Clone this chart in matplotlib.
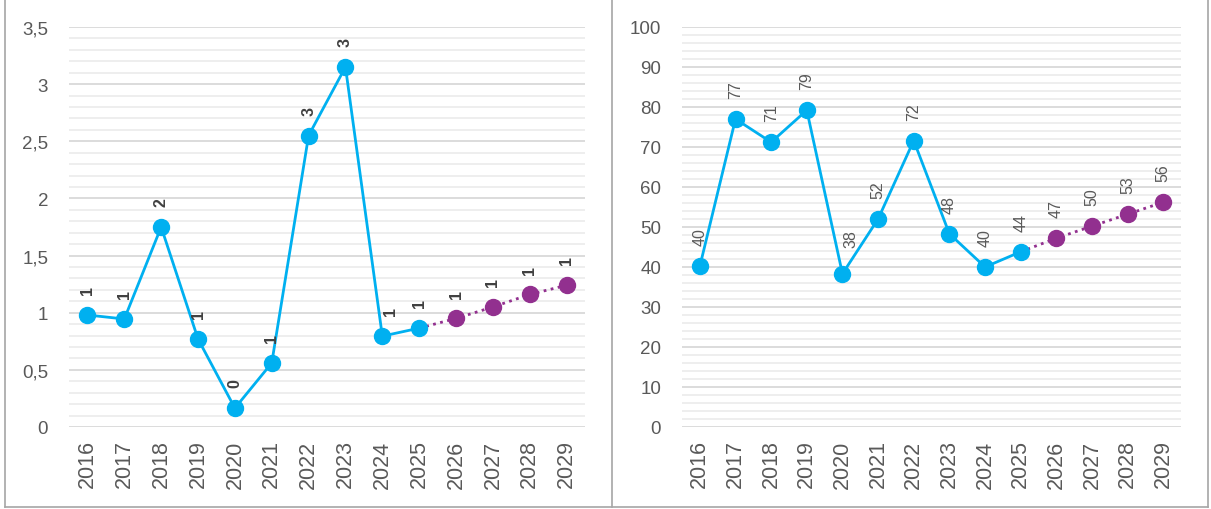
import matplotlib.pyplot as plt
from matplotlib.ticker import MultipleLocator, FuncFormatter
from matplotlib.lines import Line2D

plt.rcParams['font.family'] = ['Liberation Sans', 'DejaVu Sans']

years = ['2016', '2017', '2018', '2019', '2020', '2021', '2022',
         '2023', '2024', '2025', '2026', '2027', '2028', '2029']
n_fact = 10  # 2016..2025 actual, 2026..2029 forecast

left_vals = [0.98, 0.945, 1.75, 0.77, 0.165, 0.56, 2.55, 3.15, 0.795, 0.865,
             0.95, 1.05, 1.16, 1.24]
left_labels = ['1', '1', '2', '1', '0', '1', '3', '3', '1', '1', '1', '1', '1', '1']

right_vals = [40.2, 77.0, 71.2, 79.2, 38.3, 52.0, 71.6, 48.3, 40.0, 43.8,
              47.2, 50.2, 53.2, 56.2]
right_labels = ['40', '77', '71', '79', '38', '52', '72', '48', '40', '44',
                '47', '50', '53', '56']

blue = '#00B0F0'
purple = '#92308F'
grey = '#595959'

fig = plt.figure(figsize=(12.11, 5.10), dpi=100)

# panel borders
for xs, ys in [([0.004, 0.004], [0.004, 1.0]), ([0.505, 0.505], [0.004, 1.0]),
               ([0.9975, 0.9975], [0.004, 1.0]), ([0.004, 0.9975], [0.004, 0.004])]:
    fig.add_artist(Line2D(xs, ys, color='#A6A6A6', lw=1.2, transform=fig.transFigure))


def draw(ax, vals, labels, ymax, major, minor, bold, shifted={}):
    x = list(range(len(years)))
    ax.plot(x[:n_fact], vals[:n_fact], color=blue, lw=2, marker='o', ms=11.5, zorder=3)
    ax.plot(x[n_fact - 1:], vals[n_fact - 1:], color=purple, lw=2, ls=(0, (1, 1.6)), zorder=2)
    ax.plot(x[n_fact:], vals[n_fact:], color=purple, lw=0, marker='o', ms=11.5, zorder=3)
    for i, (xi, v, t) in enumerate(zip(x, vals, labels)):
        off = shifted.get(i, (0, 15))
        ax.annotate(t, (xi, v), xytext=off, textcoords='offset points',
                    rotation=90, ha='center', va='bottom', fontsize=11.5,
                    color='#404040' if bold else grey,
                    fontweight='bold' if bold else 'normal')
    ax.set_xlim(-0.5, len(years) - 0.5)
    ax.set_ylim(0, ymax)
    ax.set_xticks(x)
    ax.set_xticklabels(years, rotation=90)
    ax.yaxis.set_major_locator(MultipleLocator(major))
    ax.yaxis.set_minor_locator(MultipleLocator(minor))
    ax.yaxis.set_major_formatter(FuncFormatter(lambda v, p: ('%g' % v).replace('.', ',')))
    ax.grid(axis='y', which='major', color='#D9D9D9', lw=1.3)
    ax.grid(axis='y', which='minor', color='#EDEDED', lw=1.3)
    ax.set_axisbelow(True)
    for s in ax.spines.values():
        s.set_visible(False)
    ax.tick_params(axis='y', which='both', length=0, pad=15, labelsize=13.5, labelcolor=grey)
    ax.tick_params(axis='x', length=0, pad=9, labelsize=15.5, labelcolor=grey)


ax1 = fig.add_axes([0.0570, 0.1608, 0.4261, 0.7843])
draw(ax1, left_vals, left_labels, 3.5, 0.5, 0.1, True, shifted={8: (6, 15)})

ax2 = fig.add_axes([0.5632, 0.1608, 0.4121, 0.7843])
draw(ax2, right_vals, right_labels, 100, 10, 2, False, shifted={4: (6, 19)})

fig.savefig('out.png', dpi=100)
